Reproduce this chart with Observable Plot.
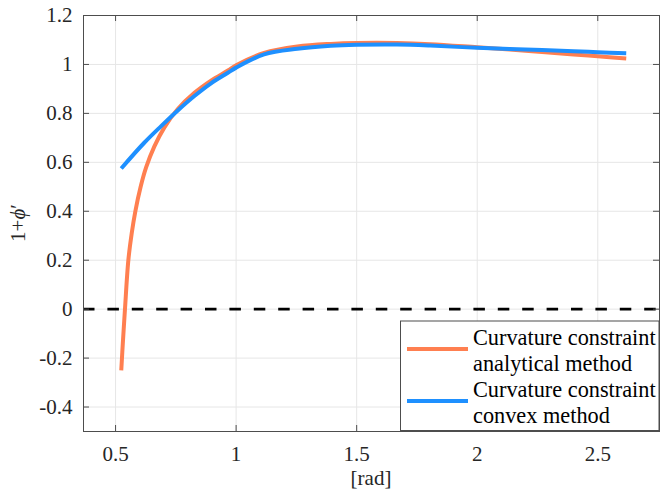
<!DOCTYPE html>
<html>
<head>
<meta charset="utf-8">
<script src="https://cdn.jsdelivr.net/npm/d3@7"></script>
<script src="https://cdn.jsdelivr.net/npm/@observablehq/plot@0.6"></script>
<style>
  body { margin: 0; background: #fff; }
  svg { display: block; }
</style>
</head>
<body>
<div id="chart"></div>
<script>
// 1 + phi' against the angle [rad] for the two curvature-constraint methods
const angleAnalytical = [0.5236, 0.531, 0.539, 0.553, 0.567, 0.582, 0.604, 0.627, 0.661, 0.702, 0.758, 0.827, 0.896, 0.966, 1.0, 1.116, 1.254, 1.393, 1.5, 1.667, 1.805, 2.0, 2.2, 2.4, 2.5, 2.618];
const valueAnalytical = [-0.25, -0.125, 0.0, 0.2, 0.31, 0.4, 0.5, 0.58, 0.665, 0.742, 0.818, 0.884, 0.934, 0.975, 0.997, 1.047, 1.073, 1.084, 1.088, 1.088, 1.083, 1.07, 1.056, 1.041, 1.033, 1.0245];

const angleConvex = [0.5236, 0.619, 0.689, 0.758, 0.827, 0.896, 0.966, 1.0, 1.116, 1.254, 1.393, 1.5, 1.667, 1.805, 2.0, 2.2, 2.4, 2.5, 2.618];
const valueConvex = [0.575, 0.68, 0.748, 0.812, 0.871, 0.923, 0.966, 0.987, 1.041, 1.064, 1.076, 1.08, 1.081, 1.077, 1.068, 1.061, 1.054, 1.05, 1.046];

const xTicks = [0.5, 1, 1.5, 2, 2.5];
const xTickLabels = ["0.5", "1", "1.5", "2", "2.5"];
const yTicks = [-0.4, -0.2, 0, 0.2, 0.4, 0.6, 0.8, 1, 1.2];
const yTickLabels = ["-0.4", "-0.2", "0", "0.2", "0.4", "0.6", "0.8", "1", "1.2"];

const seriesLabels = [
  ["Curvature constraint", "analytical method"],
  ["Curvature constraint", "convex method"]
];
const seriesColors = ["#FF7F50", "#1E90FF"];
const xLabel = "[rad]";

// layout
const W = 660, H = 500;
const M = { top: 15, right: 1, bottom: 69, left: 83 };
const innerW = W - M.left - M.right;
const innerH = H - M.top - M.bottom;
const tickLen = 6;
const serif = '"Liberation Serif", "Times New Roman", serif';
const axisColor = "#4d4d4d";
const textColor = "#262626";

const analytical = angleAnalytical.map((x, i) => ({ x, y: valueAnalytical[i] }));
const convex = angleConvex.map((x, i) => ({ x, y: valueConvex[i] }));

const chart = Plot.plot({
  width: W,
  height: H,
  marginTop: M.top,
  marginRight: M.right,
  marginBottom: M.bottom,
  marginLeft: M.left,
  style: { background: "white", color: textColor },
  x: { domain: [0.367, 2.756] },
  y: { domain: [-0.5, 1.2] },
  marks: [
    Plot.gridX({ ticks: xTicks, stroke: "#e6e6e6", strokeOpacity: 1 }),
    Plot.gridY({ ticks: yTicks, stroke: "#e6e6e6", strokeOpacity: 1 }),
    Plot.ruleY([0], { stroke: "#000", strokeWidth: 2.6, strokeDasharray: "11.5,12.9" }),
    Plot.line(analytical, { x: "x", y: "y", stroke: seriesColors[0], strokeWidth: 4, curve: "catmull-rom", strokeLinecap: "butt" }),
    Plot.line(convex, { x: "x", y: "y", stroke: seriesColors[1], strokeWidth: 4, curve: "catmull-rom", strokeLinecap: "butt" }),
    // inward ticks on all four sides
    Plot.tickX(xTicks, { x: d => d, stroke: axisColor, insetTop: innerH - tickLen }),
    Plot.tickX(xTicks, { x: d => d, stroke: axisColor, insetBottom: innerH - tickLen }),
    Plot.tickY(yTicks, { y: d => d, stroke: axisColor, insetRight: innerW - tickLen }),
    Plot.tickY(yTicks, { y: d => d, stroke: axisColor, insetLeft: innerW - tickLen }),
    Plot.frame({ stroke: axisColor }),
    Plot.axisX({ ticks: xTicks, tickSize: 0, tickPadding: 15, fontSize: 21, fontFamily: serif, fill: textColor, label: null,
      tickFormat: d => xTickLabels[xTicks.indexOf(d)] }),
    Plot.axisY({ ticks: yTicks, tickSize: 0, tickPadding: 11, fontSize: 21, fontFamily: serif, fill: textColor, label: null,
      tickFormat: d => yTickLabels[yTicks.indexOf(d)] })
  ]
});

document.getElementById("chart").appendChild(chart);

const svg = d3.select(chart);

// x-axis label
svg.append("text")
  .attr("x", M.left + innerW / 2)
  .attr("y", 485)
  .style("text-anchor", "middle")
  .style("font-family", serif)
  .style("font-size", "21px")
  .style("fill", textColor)
  .text(xLabel);

// y-axis label: 1+ϕ′ with italic phi
const yl = svg.append("text")
  .attr("transform", `translate(25,${M.top + innerH / 2}) rotate(-90)`)
  .style("text-anchor", "middle")
  .style("font-family", serif)
  .style("font-size", "21px")
  .style("fill", textColor);
yl.append("tspan").text("1+");
yl.append("tspan").style("font-style", "italic").text("ϕ");
yl.append("tspan").text("′");

// legend box in the lower right corner
const lg = svg.append("g")
  .style("font-family", serif)
  .style("font-size", "22.3px");
lg.append("rect")
  .attr("x", 400.5).attr("y", 321)
  .attr("width", 258.5).attr("height", 109.5)
  .attr("fill", "white").attr("stroke", axisColor).attr("stroke-width", 1);
seriesLabels.forEach((lines, i) => {
  const top = 345 + i * 52;
  lg.append("line")
    .attr("x1", 407).attr("x2", 468)
    .attr("y1", top + 4).attr("y2", top + 4)
    .attr("stroke", seriesColors[i]).attr("stroke-width", 4);
  lines.forEach((t, j) => {
    lg.append("text")
      .attr("x", 473).attr("y", top + j * 26)
      .style("text-anchor", "start")
      .style("fill", "#000")
      .text(t);
  });
});
</script>
</body>
</html>
